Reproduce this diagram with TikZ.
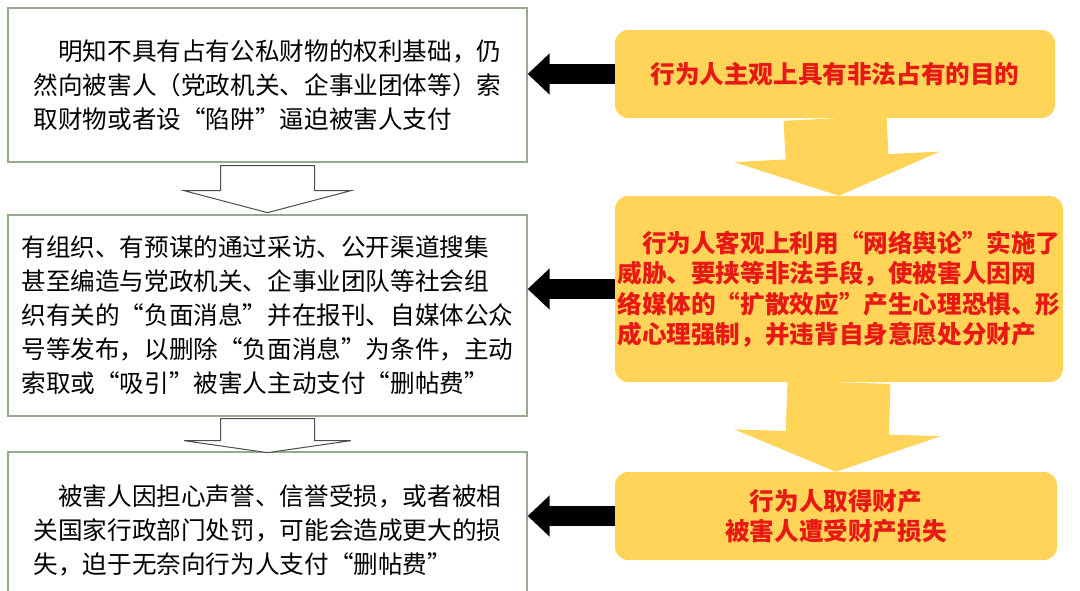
\documentclass[tikz,border=0pt]{standalone}
\usepackage{fontspec}
\setmainfont{Noto Sans CJK SC}
\usetikzlibrary{arrows.meta,calc}
\definecolor{boxline}{RGB}{150,170,140}
\definecolor{goldfill}{RGB}{255,212,88}
\definecolor{redtext}{RGB}{232,24,20}
\tikzset{
  leftbox/.style={rectangle, draw=boxline, line width=0.4mm, fill=white, minimum width=155.7mm, align=left, font=\fontsize{21pt}{29pt}\selectfont, inner sep=0pt},
  goalbox/.style={rectangle, rounded corners=4mm, fill=goldfill, align=left, text=redtext, font=\bfseries\fontsize{21pt}{26pt}\selectfont, inner sep=0pt},
  pusharrow/.style={line width=6mm, -{Triangle[width=12mm,length=6.6mm]}},
  flowarrow/.style={draw=goldfill, line width=30.9mm, -{Triangle[width=61.5mm,length=11.7mm]}},
  hollow/.style={draw=black!70, fill=white, line width=0.3mm}
}
\begin{document}
\begin{tikzpicture}[x=0.3mm,y=-0.3mm]
  \useasboundingbox (0,0) rectangle (1080,590);
  % left column
  \node (l1) [leftbox, minimum height=46.2mm] at (267.5,85) {\hspace{1em}明知不具有占有公私财物的权利基础，仍\\然向被害人（党政机关、企事业团体等）索\\取财物或者设“陷阱”逼迫被害人支付};
  \node (l2) [leftbox, minimum height=60.3mm] at (267.5,315.5) {有组织、有预谋的通过采访、公开渠道搜集\\甚至编造与党政机关、企事业团队等社会组\\织有关的“负面消息”并在报刊、自媒体公众\\号等发布，以删除“负面消息”为条件，主动\\索取或“吸引”被害人主动支付“删帖费”};
  \node (l3) [leftbox, minimum height=46.8mm] at (267.5,530) {\hspace{1em}被害人因担心声誉、信誉受损，或者被相\\关国家行政部门处罚，可能会造成更大的损\\失，迫于无奈向行为人支付“删帖费”};
  % right column
  \node (r1) [goalbox, minimum width=132mm, minimum height=26.4mm] at (835,74) {行为人主观上具有非法占有的目的};
  \node (r2) [goalbox, minimum width=134.4mm, minimum height=55.8mm] at (839,289) {\hspace{1em}行为人客观上利用“网络舆论”实施了\\威胁、要挟等非法手段，使被害人因网\\络媒体的“扩散效应”产生心理恐惧、形\\成心理强制，并违背自身意愿处分财产};
  \node (r3) [goalbox, align=center, minimum width=132.6mm, minimum height=26.4mm] at (836,516) {行为人取得财产\\被害人遭受财产损失};
  % yellow flow
  \draw [flowarrow] (r1.south) -- (r2.north);
  \draw [flowarrow] (r2.south) -- (r3.north);
  % black arrows
  \draw [pusharrow] (r1.west) -- (r1.west -| l1.east);
  \draw [pusharrow] (r2.west) -- (r2.west -| l2.east);
  \draw [pusharrow] (r3.west) -- (r3.west -| l3.east);
  % hollow arrows
  \draw [hollow] ($(l1.south)+(-14.1mm,-0.9mm)$) -- ($(l1.south)+(14.1mm,-0.9mm)$) -- ($(l1.south)+(14.1mm,-8.4mm)$) -- ($(l1.south)+(25mm,-8.4mm)$) -- ($(l1.south)+(0,-15mm)$) -- ($(l1.south)+(-25mm,-8.4mm)$) -- ($(l1.south)+(-14.1mm,-8.4mm)$) -- cycle;
  \draw [hollow] ($(l2.south)+(-14.1mm,-0.6mm)$) -- ($(l2.south)+(14.1mm,-0.6mm)$) -- ($(l2.south)+(14.1mm,-7.2mm)$) -- ($(l2.south)+(25mm,-7.2mm)$) -- ($(l2.south)+(0,-10.8mm)$) -- ($(l2.south)+(-25mm,-7.2mm)$) -- ($(l2.south)+(-14.1mm,-7.2mm)$) -- cycle;
\end{tikzpicture}
\end{document}
